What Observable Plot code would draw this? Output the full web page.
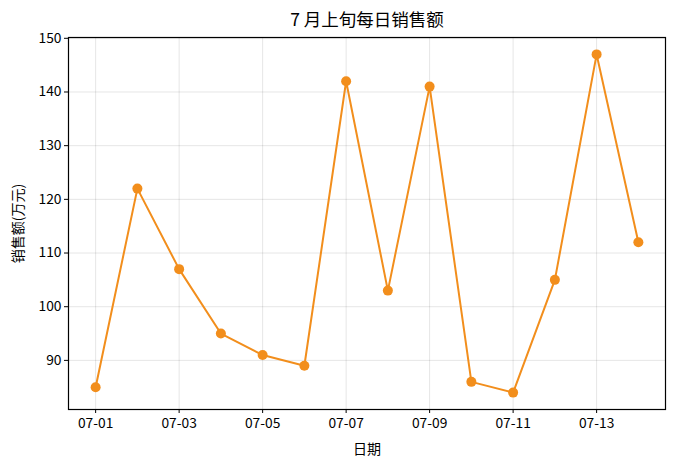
<!DOCTYPE html>
<html><head><meta charset="utf-8">
<script src="https://cdn.jsdelivr.net/npm/d3@7"></script>
<script src="https://cdn.jsdelivr.net/npm/@observablehq/plot@0.6"></script>
<style>
body{margin:0;background:#fff;}
svg{font-family:"Noto Sans CJK SC","Noto Sans",sans-serif;}
</style></head><body>
<div id="chart"></div>
<script>
const dates = ["07-01","07-02","07-03","07-04","07-05","07-06","07-07","07-08","07-09","07-10","07-11","07-12","07-13","07-14"];
const sales = [85,122,107,95,91,89,142,103,141,86,84,105,147,112];
const title = "7 月上旬每日销售额";
const yLabel = "销售额(万元)";
const xLabel = "日期";
const yTicks = [90,100,110,120,130,140,150];
const xTicks = [0,2,4,6,8,10,12];

const data = dates.map((d,i)=>({i, d, v: sales[i]}));
const color = "#f28e1c";

const chart = Plot.plot({
  width: 676, height: 467,
  marginLeft: 68, marginRight: 11, marginTop: 37, marginBottom: 58,
  style: {fontFamily: '"Noto Sans CJK SC","Noto Sans",sans-serif', fontSize: "13px", color: "#000", background: "#fff"},
  x: {domain: [-0.65, 13.65], ticks: xTicks, tickFormat: i => dates[i], label: null},
  y: {domain: [80.85, 150.15], ticks: yTicks, label: null},
  marks: [
    Plot.gridX(xTicks, {stroke: "#000", strokeOpacity: 0.1}),
    Plot.gridY(yTicks, {stroke: "#000", strokeOpacity: 0.1}),
    Plot.axisX(xTicks, {tickSize: 4, tickPadding: 5, fontSize: 13.8, tickFormat: i => dates[i], label: null}),
    Plot.axisY(yTicks, {tickSize: 4, tickPadding: 3, fontSize: 13.8, label: null}),
    Plot.line(data, {x: "i", y: "v", stroke: color, strokeWidth: 2}),
    Plot.dot(data, {x: "i", y: "v", fill: color, r: 5}),
    Plot.frame({stroke: "#000", strokeWidth: 1.2}),
    Plot.text([title], {frameAnchor: "top", lineAnchor: "middle", dy: -17, fontSize: 17.5, fill: "#000"}),
    Plot.text([xLabel], {frameAnchor: "bottom", lineAnchor: "middle", dy: 40, fontSize: 14, fill: "#000"}),
    Plot.text([yLabel], {frameAnchor: "left", textAnchor: "middle", lineAnchor: "middle", dx: -50, rotate: -90, fontSize: 14, fill: "#000"})
  ]
});
document.getElementById("chart").appendChild(chart);
</script>
</body></html>
